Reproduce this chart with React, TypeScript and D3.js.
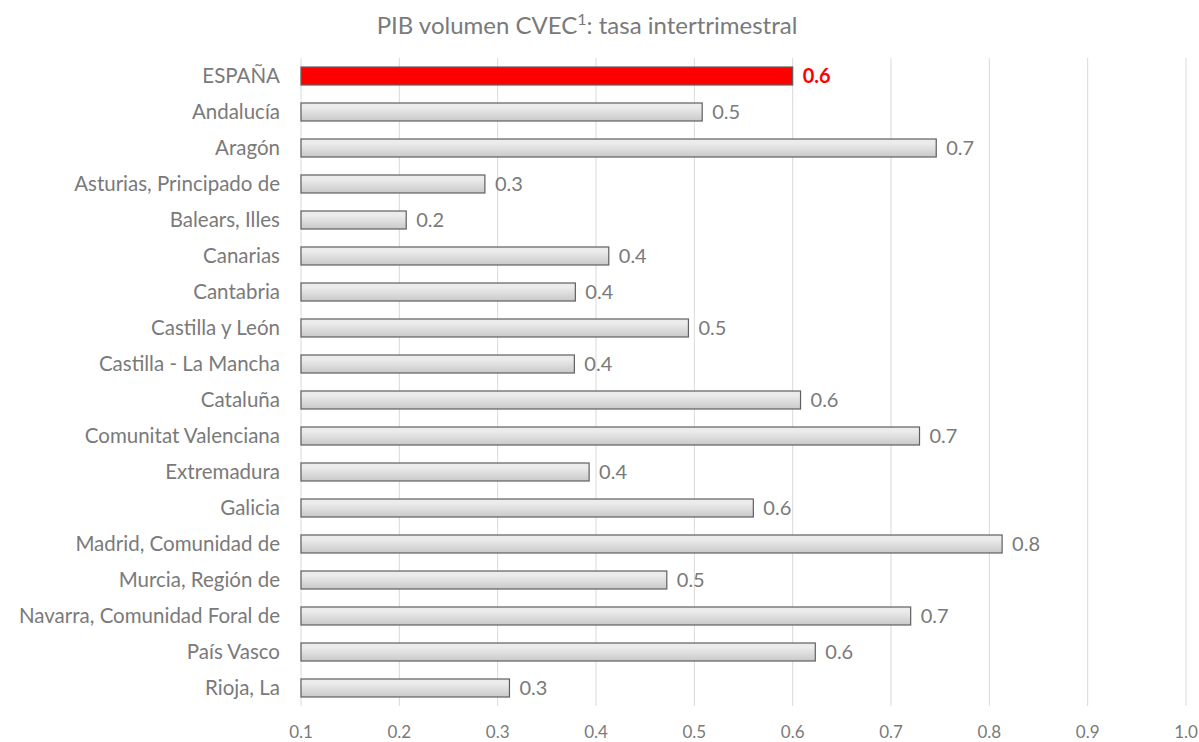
import { format, scaleBand, scaleLinear } from 'd3'
import { useId } from 'react'

const categories = [
  'ESPAÑA',
  'Andalucía',
  'Aragón',
  'Asturias, Principado de',
  'Balears, Illes',
  'Canarias',
  'Cantabria',
  'Castilla y León',
  'Castilla - La Mancha',
  'Cataluña',
  'Comunitat Valenciana',
  'Extremadura',
  'Galicia',
  'Madrid, Comunidad de',
  'Murcia, Región de',
  'Navarra, Comunidad Foral de',
  'País Vasco',
  'Rioja, La',
]

const values = [
  0.6, 0.508, 0.746, 0.287, 0.207, 0.413, 0.379, 0.494, 0.378, 0.608, 0.729, 0.393, 0.56, 0.813,
  0.472, 0.72, 0.623, 0.312,
]

const xTickValues = [0.1, 0.2, 0.3, 0.4, 0.5, 0.6, 0.7, 0.8, 0.9, 1.0]

const highlight = 'ESPAÑA'

const width = 1199
const height = 742
const plot = { left: 301, right: 1186, top: 58, bottom: 706 }
const font = 'Lato, "Open Sans", sans-serif'
const gray = '#7a7a7a'

const App = () => {
  const gradientId = useId()
  const fmt = format('.1f')

  const x = scaleLinear().domain([0.1, 1.0]).range([plot.left, plot.right])
  const y = scaleBand<string>()
    .domain(categories)
    .range([plot.top, plot.bottom])
    .paddingInner(0.5)
    .paddingOuter(0.25)

  return (
    <svg
      width={width}
      height={height}
      viewBox={`0 0 ${width} ${height}`}
      style={{ position: 'absolute', left: 0, top: 0, background: 'white' }}
    >
      <defs>
        <linearGradient id={`${gradientId}-bar`} x1="0" x2="0" y1="0" y2="1">
          <stop offset="0%" stopColor="#ececec" />
          <stop offset="25%" stopColor="#ebebeb" />
          <stop offset="100%" stopColor="#c9c9c9" />
        </linearGradient>
      </defs>

      <text
        x={587}
        y={34}
        textAnchor="middle"
        fontFamily={font}
        fontSize={24}
        fill={gray}
      >
        PIB volumen CVEC
        <tspan fontSize={16} dy={-9}>1</tspan>
        <tspan dy={9}>: tasa intertrimestral</tspan>
      </text>

      {xTickValues.map((t) => (
        <g key={t}>
          <line x1={x(t)} x2={x(t)} y1={plot.top} y2={plot.bottom} stroke="#d9d9d9" />
          <text
            x={x(t)}
            y={738}
            textAnchor="middle"
            fontFamily={font}
            fontSize={17}
            fill={gray}
          >
            {fmt(t)}
          </text>
        </g>
      ))}

      {categories.map((c, i) => {
        const yPos = y(c) ?? 0
        const bw = y.bandwidth()
        const isHi = c === highlight
        return (
          <g key={c}>
            <text
              x={280}
              y={yPos + bw / 2}
              dy="0.36em"
              textAnchor="end"
              fontFamily={font}
              fontSize={20.5}
              fill={gray}
            >
              {c}
            </text>
            <rect
              x={x(0.1)}
              y={yPos}
              width={x(values[i]) - x(0.1)}
              height={bw}
              fill={isHi ? '#ff0000' : `url(#${gradientId}-bar)`}
              stroke="#5f5f5f"
              strokeWidth={1.2}
            />
            <text
              x={x(values[i]) + 10}
              y={yPos + bw / 2}
              dy="0.36em"
              fontFamily={font}
              fontSize={20}
              fontWeight={isHi ? 700 : 400}
              fill={isHi ? '#ff0000' : gray}
            >
              {fmt(values[i])}
            </text>
          </g>
        )
      })}
    </svg>
  )
}

export default App
